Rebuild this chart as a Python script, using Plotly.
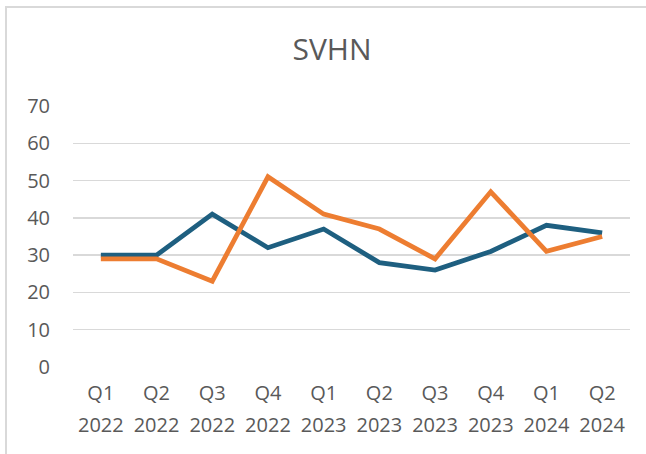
import plotly.graph_objects as go

quarters = ["Q1", "Q2", "Q3", "Q4", "Q1", "Q2", "Q3", "Q4", "Q1", "Q2"]
years = ["2022", "2022", "2022", "2022", "2023", "2023", "2023", "2023", "2024", "2024"]
categories = [f"{q} {y}" for q, y in zip(quarters, years)]
blue_values = [30, 30, 41, 32, 37, 28, 26, 31, 38, 36]
orange_values = [29, 29, 23, 51, 41, 37, 29, 47, 31, 35]
y_ticks = [0, 10, 20, 30, 40, 50, 60, 70]

W, H = 646, 454
L, R, T, B = 73, 16, 105.5, 86.5
pw, ph = W - L - R, H - T - B

FONT = "Open Sans"
TXT = "#595959"

fig = go.Figure()
fig.add_trace(go.Scatter(x=categories, y=blue_values, mode="lines",
                         line=dict(color="#1E5F80", width=4.8),
                         xaxis="x", yaxis="y", showlegend=False, hoverinfo="skip"))
fig.add_trace(go.Scatter(x=categories, y=orange_values, mode="lines",
                         line=dict(color="#ED7D31", width=4.8),
                         xaxis="x2", yaxis="y", showlegend=False, hoverinfo="skip"))

def px_to_paper_x(px):
    return (px - L) / pw

def px_to_paper_y(py):
    return (H - B - py) / ph

fig.update_layout(
    width=W, height=H,
    margin=dict(l=L, r=R, t=T, b=B, pad=0),
    paper_bgcolor="white", plot_bgcolor="white",
    font=dict(family=FONT, color=TXT, size=20),
    title=dict(text="SVHN", x=332 / W, xanchor="center", y=1 - 49 / H, yanchor="middle",
               font=dict(family=FONT, size=30, color=TXT)),
    xaxis=dict(type="category", categoryorder="array", categoryarray=categories,
               range=[-0.5, 9.5], tickvals=categories, ticktext=quarters,
               showgrid=False, zeroline=False, showline=False, ticks="",
               ticklabelstandoff=12, tickfont=dict(size=20, color=TXT, family=FONT)),
    xaxis2=dict(type="category", categoryorder="array", categoryarray=categories,
                overlaying="x", side="bottom", anchor="y", matches="x",
                range=[-0.5, 9.5], tickvals=categories, ticktext=years,
                showgrid=False, zeroline=False, showline=False, ticks="",
                ticklabelstandoff=44, tickfont=dict(size=20, color=TXT, family=FONT)),
    yaxis=dict(range=[0, 70], tickvals=y_ticks, showgrid=True, gridcolor="#D9D9D9",
               gridwidth=1.5, zeroline=False, showline=False, ticks="",
               ticklabelstandoff=22, tickfont=dict(size=20, color=TXT, family=FONT)),
    shapes=[dict(type="rect", xref="paper", yref="paper",
                 x0=px_to_paper_x(6), x1=px_to_paper_x(680),
                 y0=px_to_paper_y(490), y1=px_to_paper_y(6),
                 line=dict(color="#D9D9D9", width=2), layer="above")],
)

fig.write_html("out.html", config={"displayModeBar": False, "staticPlot": True},
               post_script="document.body.style.margin='0';")
